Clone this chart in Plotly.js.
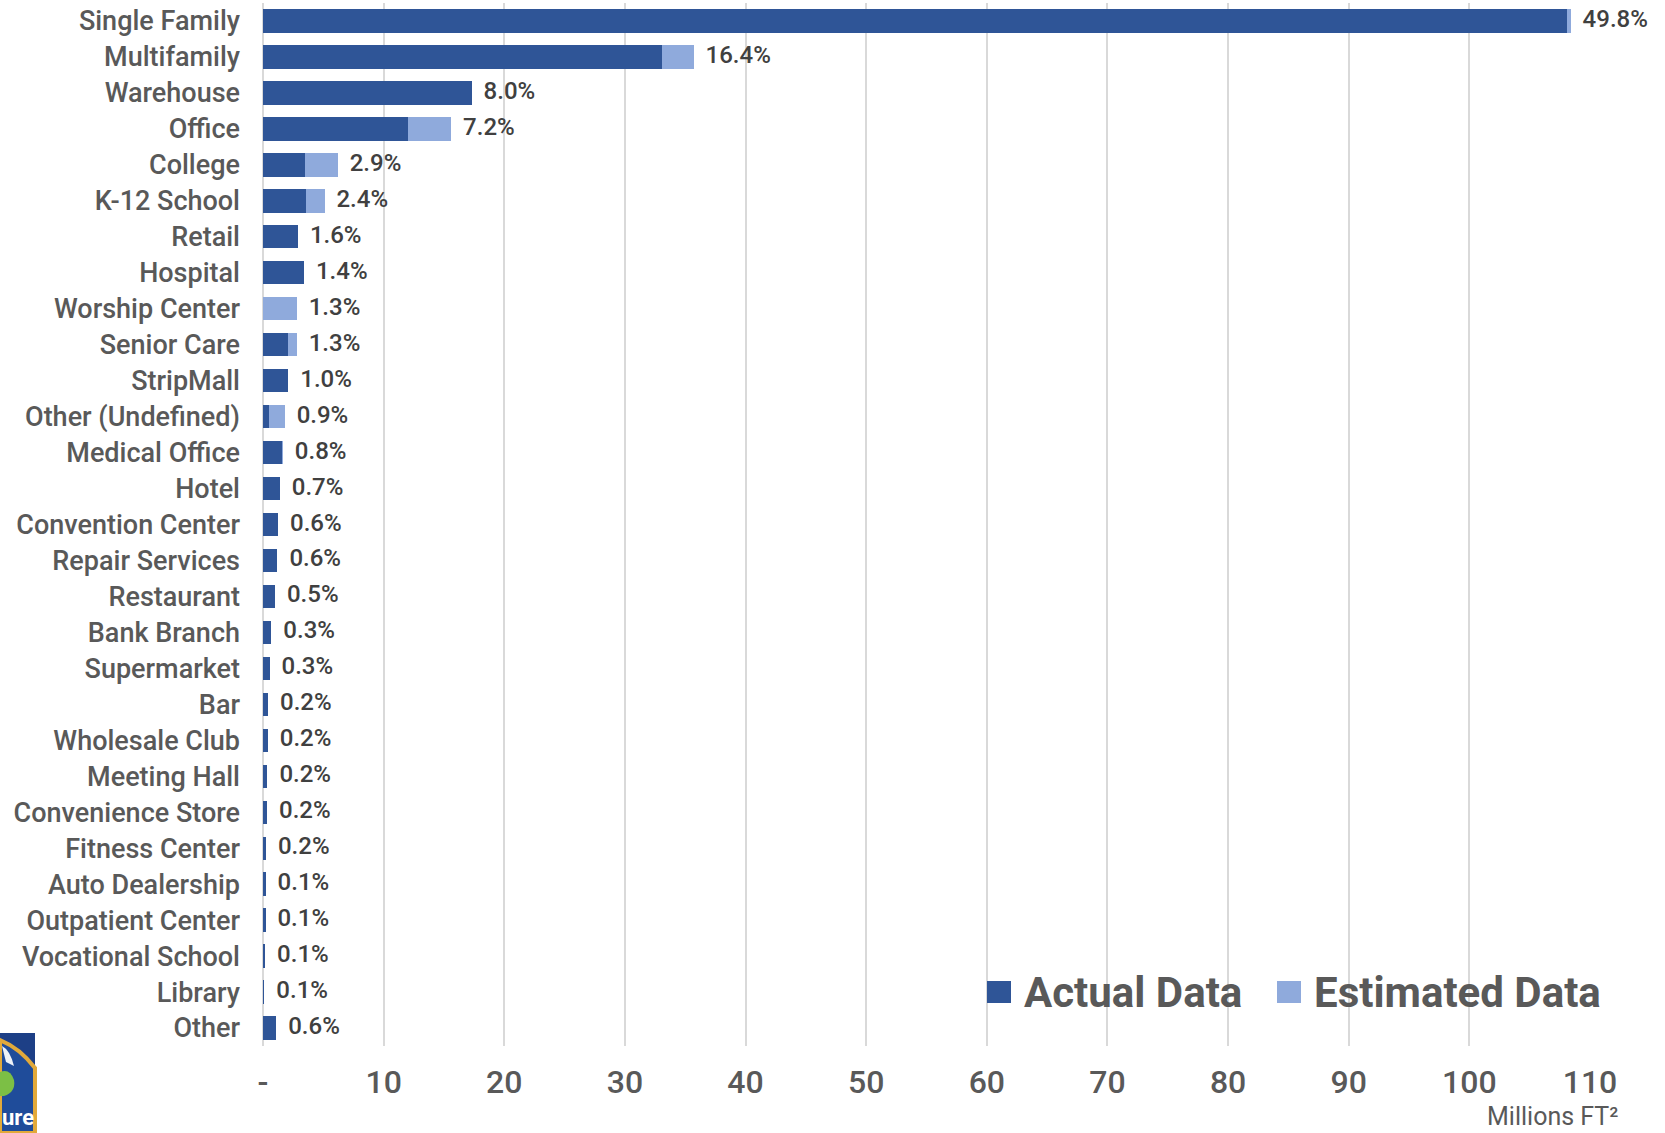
<!DOCTYPE html>
<html>
<head>
<meta charset="utf-8">
<script src="https://cdn.plot.ly/plotly-3.0.1.min.js"></script>
<style>
html,body{margin:0;padding:0;background:#fff;}
#chart{width:1665px;height:1133px;}
</style>
</head>
<body>
<div id="chart"></div>
<script>
const categories = ["Single Family","Multifamily","Warehouse","Office","College","K-12 School","Retail","Hospital","Worship Center","Senior Care","StripMall","Other (Undefined)","Medical Office","Hotel","Convention Center","Repair Services","Restaurant","Bank Branch","Supermarket","Bar","Wholesale Club","Meeting Hall","Convenience Store","Fitness Center","Auto Dealership","Outpatient Center","Vocational School","Library","Other"];
const actualData = [108.1,33.1,17.3,12.0,3.5,3.6,2.9,3.4,0,2.1,2.1,0.5,1.55,1.4,1.25,1.2,1.0,0.7,0.55,0.42,0.4,0.37,0.34,0.25,0.22,0.21,0.18,0.12,1.1];
const estimatedData = [0.3,2.6,0,3.6,2.7,1.5,0,0,2.8,0.7,0,1.3,0.1,0,0,0,0,0,0,0,0,0,0,0,0,0,0,0,0];
const shareLabels = ["49.8%","16.4%","8.0%","7.2%","2.9%","2.4%","1.6%","1.4%","1.3%","1.3%","1.0%","0.9%","0.8%","0.7%","0.6%","0.6%","0.5%","0.3%","0.3%","0.2%","0.2%","0.2%","0.2%","0.2%","0.1%","0.1%","0.1%","0.1%","0.6%"];
const seriesNames = ["Actual Data","Estimated Data"];
const xTickVals = [0,10,20,30,40,50,60,70,80,90,100,110];
const xTickText = ["-","10","20","30","40","50","60","70","80","90","100","110"];

const DARK = "#2F5597", LIGHT = "#8FAADC", GRAY = "#595959";
const totals = actualData.map((v,i)=>v+estimatedData[i]);

// layout geometry helpers (pixel -> paper)
const L = 263, R = 1590, T = 3, B = 1046;
const px = x => (x - L) / (R - L);
const py = y => (B - y) / (B - T);

const traces = [
  {type:"bar", orientation:"h", name:seriesNames[0], y:categories, x:actualData,
   marker:{color:DARK}, hoverinfo:"x+y", showlegend:false},
  {type:"bar", orientation:"h", name:seriesNames[1], y:categories, x:estimatedData,
   marker:{color:LIGHT}, hoverinfo:"x+y", showlegend:false},
  {type:"scatter", mode:"text", y:categories, x:totals,
   text:shareLabels.map(s=>"\u00a0\u00a0"+s), textposition:"middle right",
   textfont:{family:"Roboto, sans-serif", size:24, color:"#404040", weight:500},
   showlegend:false, hoverinfo:"skip", cliponaxis:false}
];

// legend drawn as layout shapes + annotations (large keys like the reference)
const legendKeys = [
  {sq0:987, text0:1022, color:DARK},
  {sq0:1277, text0:1312, color:LIGHT}
];
const legendShapes = legendKeys.map(k=>({type:"rect", xref:"paper", yref:"paper",
  x0:px(k.sq0), x1:px(k.sq0+24), y0:py(1003), y1:py(981), fillcolor:k.color, line:{width:0}}));
const legendTexts = legendKeys.map((k,i)=>({xref:"paper", yref:"paper", x:px(k.text0), y:py(992),
  xanchor:"left", yanchor:"middle", showarrow:false, text:seriesNames[i],
  font:{size:42, color:GRAY, weight:700}}));

const layout = {
  width:1665, height:1133,
  margin:{l:L, r:1665-R, t:T, b:1133-B, pad:0},
  paper_bgcolor:"#ffffff", plot_bgcolor:"#ffffff",
  barmode:"stack", bargap:0.35,
  font:{family:"Roboto, sans-serif", color:GRAY},
  showlegend:false,
  xaxis:{range:[0,110], tickmode:"array", tickvals:xTickVals, ticktext:xTickText,
    showgrid:true, gridcolor:"#d9d9d9", gridwidth:2, zeroline:true, zerolinecolor:"#d9d9d9", zerolinewidth:2,
    showline:false, ticks:"", tickfont:{size:32, color:GRAY, weight:500}, ticklabelstandoff:14, fixedrange:true},
  yaxis:{type:"category", categoryorder:"array", categoryarray:categories,
    range:[categories.length-0.5, -0.5], autorange:false,
    showgrid:false, zeroline:false, showline:false, ticks:"",
    tickfont:{size:27, color:GRAY, weight:500}, ticklabelstandoff:22, fixedrange:true},
  annotations:[
    ...legendTexts,
    {xref:"paper", yref:"paper", x:px(1620), y:py(1116), xanchor:"right", yanchor:"middle",
     text:"Millions FT²", showarrow:false, font:{size:25, color:GRAY}},
    {xref:"paper", yref:"paper", x:px(36), y:py(1117), xanchor:"right", yanchor:"middle",
     text:"ure", showarrow:false, font:{size:22, color:"#ffffff", weight:700}}
  ],
  shapes:[
    ...legendShapes,
    {type:"rect", xref:"paper", yref:"paper", x0:px(0), x1:px(35), y0:py(1133), y1:py(1033),
     fillcolor:"#1d3f86", line:{width:0}, layer:"above"},
    {type:"path", xref:"paper", yref:"paper",
     path:`M ${px(0)},${py(1040)} Q ${px(20)},${py(1048)} ${px(35)},${py(1068)} L ${px(35)},${py(1133)} L ${px(0)},${py(1133)} Z`,
     fillcolor:"#1f4c9a", line:{color:"#e2a93a", width:4}, layer:"above"},
    {type:"path", xref:"paper", yref:"paper",
     path:`M ${px(0)},${py(1072)} Q ${px(10)},${py(1068)} ${px(14)},${py(1080)} Q ${px(16)},${py(1092)} ${px(4)},${py(1096)} L ${px(0)},${py(1096)} Z`,
     fillcolor:"#7cbf45", line:{width:0}, layer:"above"},
    {type:"path", xref:"paper", yref:"paper",
     path:`M ${px(2)},${py(1046)} Q ${px(10)},${py(1050)} ${px(14)},${py(1066)} L ${px(6)},${py(1062)} Z`,
     fillcolor:"#eef2f8", line:{width:0}, layer:"above"}
  ]
};

Plotly.newPlot("chart", traces, layout, {displayModeBar:false, staticPlot:true});
</script>
</body>
</html>
